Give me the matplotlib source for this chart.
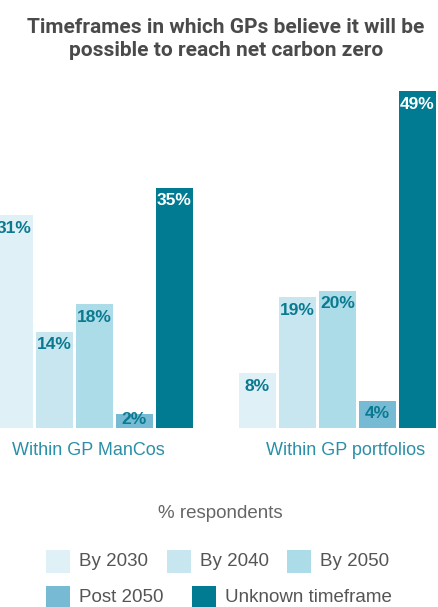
import matplotlib
matplotlib.use('Agg')
import matplotlib.pyplot as plt
from matplotlib.patches import Rectangle

# Datos: % de respuestas por horizonte temporal
grupos = ['Within GP ManCos', 'Within GP portfolios']
series = ['By 2030', 'By 2040', 'By 2050', 'Post 2050', 'Unknown timeframe']
by_2030 = [31, 8]
by_2040 = [14, 19]
by_2050 = [18, 20]
post_2050 = [2, 4]
unknown = [35, 49]
valores = [by_2030, by_2040, by_2050, post_2050, unknown]

colores = ['#dff0f6', '#c8e6f0', '#acdce8', '#76bad4', '#007b92']
color_etiqueta = ['#0a7a90', '#0a7a90', '#0a7a90', '#0a7a90', 'white']

W, H = 438, 607
fig = plt.figure(figsize=(W / 100, H / 100), dpi=100)

# Ejes en "pixeles": separacion entre grupos = 243 px, paso entre barras = 40 px
sep = 243.0
paso = 40 / sep
ancho = 37 / sep
base = 428
px_por_pct = 6.87
ymax = 55
ax = fig.add_axes([0, (H - base) / H, 1, ymax * px_por_pct / H])
ax.set_xlim(-94.5 / sep, (W - 94.5) / sep)
ax.set_ylim(0, ymax)

for k, (nombre, vals, col) in enumerate(zip(series, valores, colores)):
    xs = [g + (k - 2) * paso for g in range(len(grupos))]
    ax.bar(xs, vals, width=ancho, color=col, label=nombre)
    for x, v in zip(xs, vals):
        y = v - 1.9 if v > 3 else v * 0.65
        ax.text(x, y, f'{v}%', ha='center', va='center', fontsize=12.5,
                fontweight='bold', family='Liberation Sans', color=color_etiqueta[k])

for s in ax.spines.values():
    s.set_visible(False)
ax.set_yticks([])
# etiquetas de grupo ligeramente desplazadas respecto al centro del grupo
ax.set_xticks([0 - 6 / sep, 1 + 8.5 / sep])
ax.set_xticklabels(grupos, fontsize=13, color='#2a8fa8', family='Liberation Sans')
ax.tick_params(axis='x', length=0, pad=10)

# Titulo
fig.text(226 / W, 1 - 39 / H,
         'Timeframes in which GPs believe it will be\npossible to reach net carbon zero',
         ha='center', va='center', fontsize=15, fontweight='bold',
         family='Roboto', color='#4a4a4a', linespacing=1.3)

fig.text(220 / W, 1 - 513 / H, '% respondents', ha='center', va='center',
         fontsize=13.5, family='Liberation Sans', color='#666666')

# Leyenda manual en dos filas
leyenda = [
    (0, 46, 561), (1, 167, 561), (2, 287, 561),
    (3, 46, 597), (4, 192, 597),
]
for k, x0, yc in leyenda:
    fig.add_artist(Rectangle((x0 / W, 1 - (yc + 11.5) / H), 24 / W, 23 / H,
                             transform=fig.transFigure, color=colores[k], lw=0))
    fig.text((x0 + 33) / W, 1 - yc / H, series[k], ha='left', va='center',
             fontsize=13.5, family='Liberation Sans', color='#555555')

fig.savefig('out.png', dpi=100)
